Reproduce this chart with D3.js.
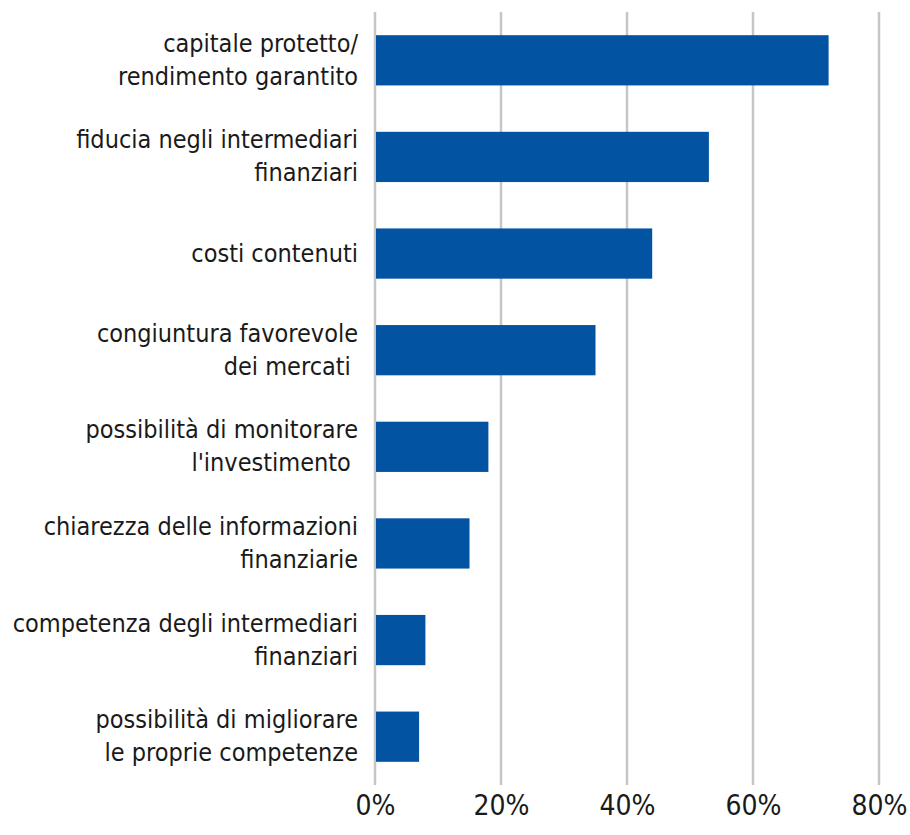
<!DOCTYPE html>
<html>
<head>
<meta charset="utf-8">
<script src="https://cdn.jsdelivr.net/npm/d3@7"></script>
<style>
  body { margin: 0; background: #fff; }
  text { font-family: "Liberation Sans Narrow", "DejaVu Sans Condensed", "Noto Sans", sans-serif; fill: #1a1a1a; }
</style>
</head>
<body>
<div id="chart"></div>
<script>
// Chart data
var categories = [
  ["capitale protetto/", "rendimento garantito"],
  ["fiducia negli intermediari", "finanziari"],
  ["costi contenuti"],
  ["congiuntura favorevole", "dei mercati\u00a0"],
  ["possibilità di monitorare", "l'investimento\u00a0"],
  ["chiarezza delle informazioni", "finanziarie"],
  ["competenza degli intermediari", "finanziari"],
  ["possibilità di migliorare", "le proprie competenze"]
];
var values = [72, 53, 44, 35, 18, 15, 8, 7];
var tickValues = [0, 20, 40, 60, 80];

var svgWidth = 910;
var svgHeight = 835;
var margin = { top: 12, right: 31, bottom: 50, left: 375 };
var width = svgWidth - margin.left - margin.right;
var height = svgHeight - margin.top - margin.bottom;

var svg = d3.select("#chart")
  .append("svg")
  .attr("width", svgWidth)
  .attr("height", svgHeight);

var chartGroup = svg.append("g")
  .attr("transform", `translate(${margin.left}, ${margin.top})`);

var xScale = d3.scaleLinear().domain([0, 80]).range([0, width]);
var yScale = d3.scaleBand()
  .domain(d3.range(categories.length))
  .range([0, height])
  .paddingInner(0.48)
  .paddingOuter(0.24);

// Gridlines
chartGroup.selectAll(".grid")
  .data(tickValues)
  .enter()
  .append("line")
  .attr("x1", d => xScale(d))
  .attr("x2", d => xScale(d))
  .attr("y1", 0)
  .attr("y2", height)
  .attr("stroke", "#c6c6c6")
  .attr("stroke-width", 2.5);

// Bars
chartGroup.selectAll(".bar")
  .data(values)
  .enter()
  .append("rect")
  .attr("x", xScale(0) + 1)
  .attr("y", (d, i) => yScale(i))
  .attr("width", d => xScale(d) - xScale(0) - 1)
  .attr("height", yScale.bandwidth())
  .attr("fill", "#0254a3");

// X axis tick labels
var xAxis = chartGroup.append("g")
  .attr("transform", `translate(0, ${height})`)
  .call(d3.axisBottom(xScale).tickValues(tickValues).tickFormat(d => d + "%").tickSize(0).tickPadding(10));
xAxis.select(".domain").remove();
xAxis.selectAll("text")
  .style("font-family", "\"Liberation Sans Narrow\", \"DejaVu Sans Condensed\", sans-serif")
  .attr("font-size", "28px")
  .attr("fill", "#1a1a1a");

// Category labels
var lineHeight = 33;
var labels = chartGroup.selectAll(".cat")
  .data(categories)
  .enter()
  .append("text")
  .attr("text-anchor", "end")
  .attr("font-size", "25px")
  .attr("x", -17)
  .attr("y", (d, i) => yScale(i) + yScale.bandwidth() / 2);

labels.selectAll("tspan")
  .data(d => d.map((t, j) => ({ t: t, j: j, n: d.length })))
  .enter()
  .append("tspan")
  .attr("x", -17)
  .attr("dy", d => d.j === 0 ? ((1 - d.n) * lineHeight / 2 + 8) : lineHeight)
  .style("white-space", "pre")
  .text(d => d.t);
</script>
</body>
</html>
